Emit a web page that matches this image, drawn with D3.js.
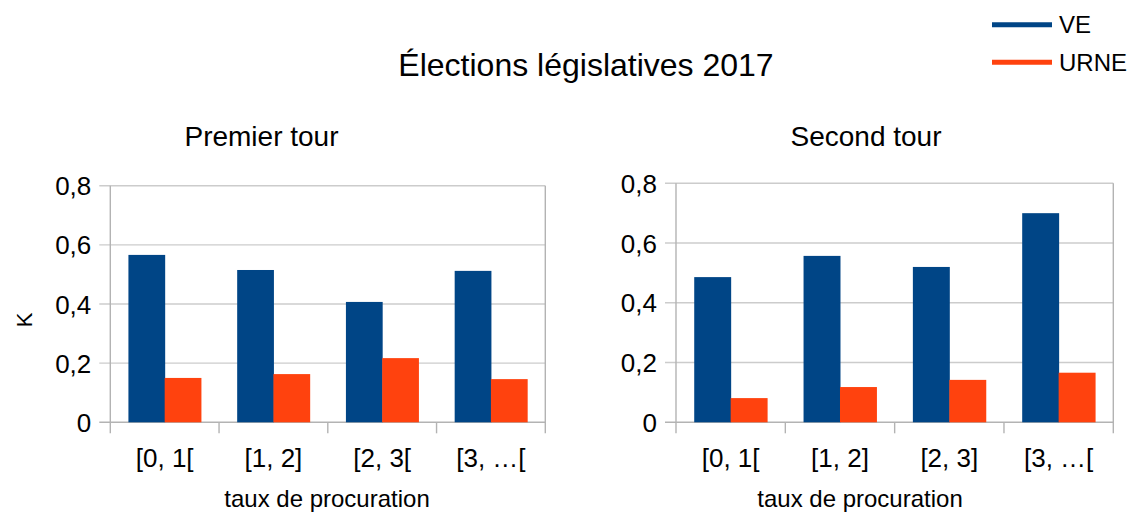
<!DOCTYPE html>
<html>
<head>
<meta charset="utf-8">
<script src="https://cdn.jsdelivr.net/npm/d3@7"></script>
<style>
  body { margin: 0; background: #fff; }
  svg { display: block; font-family: "Liberation Sans", Arial, sans-serif; }
</style>
</head>
<body>
<div id="chart"></div>
<script>
const categories = ["[0, 1[", "[1, 2]", "[2, 3[", "[3, …["];
const categories2 = ["[0, 1[", "[1, 2]", "[2, 3]", "[3, …["];
const seriesNames = ["VE", "URNE"];
const premierVE = [0.566, 0.515, 0.407, 0.512];
const premierURNE = [0.150, 0.163, 0.217, 0.146];
const secondVE = [0.486, 0.557, 0.520, 0.700];
const secondURNE = [0.081, 0.118, 0.142, 0.166];
const yTicks = [0, 0.2, 0.4, 0.6, 0.8];
const colors = { VE: "#004586", URNE: "#ff420e" };

const W = 1131, H = 513;
const svg = d3.select("#chart").append("svg")
    .attr("width", W)
    .attr("height", H);

svg.append("text")
    .attr("x", 586)
    .attr("y", 76)
    .attr("text-anchor", "middle")
    .style("font-size", "32px")
    .text("Élections législatives 2017");

// legend
const legend = svg.append("g");
seriesNames.forEach((s, i) => {
    const y = 24.7 + i * 37.6;
    legend.append("line")
        .attr("x1", 992).attr("x2", 1052)
        .attr("y1", y).attr("y2", y)
        .attr("stroke", colors[s])
        .attr("stroke-width", 5);
    legend.append("text")
        .attr("x", 1059)
        .attr("y", y + 8.6)
        .style("font-size", "24px")
        .text(s);
});

const fmt = d => d3.format(".1~f")(d).replace(".", ",");

function panel(opts) {
    const g = svg.append("g");
    const x0 = d3.scaleBand()
        .domain(opts.cats)
        .range([opts.left, opts.right]);
    const x1 = d3.scaleBand()
        .domain(seriesNames)
        .range([0, x0.bandwidth()])
        .paddingOuter(0.5);
    const y = d3.scaleLinear()
        .domain([0, 0.8])
        .range([opts.bottom, opts.top]);

    // grid
    g.append("g")
        .selectAll("line")
        .data(yTicks)
        .join("line")
        .attr("x1", opts.left - 11)
        .attr("x2", opts.right)
        .attr("y1", d => y(d))
        .attr("y2", d => y(d))
        .attr("stroke", d => d === 0 ? "#b3b3b3" : "#cccccc")
        .attr("stroke-width", 1.4);

    // vertical frame lines and category ticks
    const bounds = opts.cats.map(c => x0(c)).concat([opts.right]);
    g.append("g")
        .selectAll("line")
        .data(bounds)
        .join("line")
        .attr("x1", d => d).attr("x2", d => d)
        .attr("y1", (d, i) => (i === 0 || i === bounds.length - 1) ? opts.top : opts.bottom)
        .attr("y2", opts.bottom + 11)
        .attr("stroke", "#b3b3b3")
        .attr("stroke-width", 1.4);

    // bars
    const data = opts.cats.map((c, i) => ({ cat: c, VE: opts.ve[i], URNE: opts.urne[i] }));
    g.append("g")
        .selectAll("g")
        .data(data)
        .join("g")
        .attr("transform", d => "translate(" + x0(d.cat) + ",0)")
        .selectAll("rect")
        .data(d => seriesNames.map(s => ({ s: s, v: d[s] })))
        .join("rect")
        .attr("x", d => x1(d.s))
        .attr("width", x1.bandwidth() + 0.5)
        .attr("y", d => y(d.v))
        .attr("height", d => y(0) - y(d.v))
        .attr("fill", d => colors[d.s]);

    // y tick labels
    g.append("g")
        .selectAll("text")
        .data(yTicks)
        .join("text")
        .attr("x", opts.left - 19)
        .attr("y", d => y(d) + 9.5)
        .attr("text-anchor", "end")
        .style("font-size", "26px")
        .text(fmt);

    // category labels
    g.append("g")
        .selectAll("text")
        .data(opts.cats)
        .join("text")
        .attr("x", d => x0(d) + x0.bandwidth() / 2)
        .attr("y", opts.bottom + 45)
        .attr("text-anchor", "middle")
        .style("font-size", "26px")
        .text(d => d);

    g.append("text")
        .attr("x", opts.axisTitleX)
        .attr("y", 507)
        .attr("text-anchor", "middle")
        .style("font-size", "24px")
        .text("taux de procuration");

    g.append("text")
        .attr("x", opts.titleX)
        .attr("y", 146)
        .attr("text-anchor", "middle")
        .style("font-size", "28px")
        .text(opts.title);
}

panel({ left: 110.3, right: 545.3, top: 185.7, bottom: 422.3, cats: categories,
        ve: premierVE, urne: premierURNE, title: "Premier tour", titleX: 261.5, axisTitleX: 327 });
panel({ left: 676, right: 1113.3, top: 183.3, bottom: 422.3, cats: categories2,
        ve: secondVE, urne: secondURNE, title: "Second tour", titleX: 866, axisTitleX: 860 });

svg.append("text")
    .attr("transform", "translate(31.5,320) rotate(-90)")
    .attr("text-anchor", "middle")
    .style("font-size", "22px")
    .text("K");
</script>
</body>
</html>
